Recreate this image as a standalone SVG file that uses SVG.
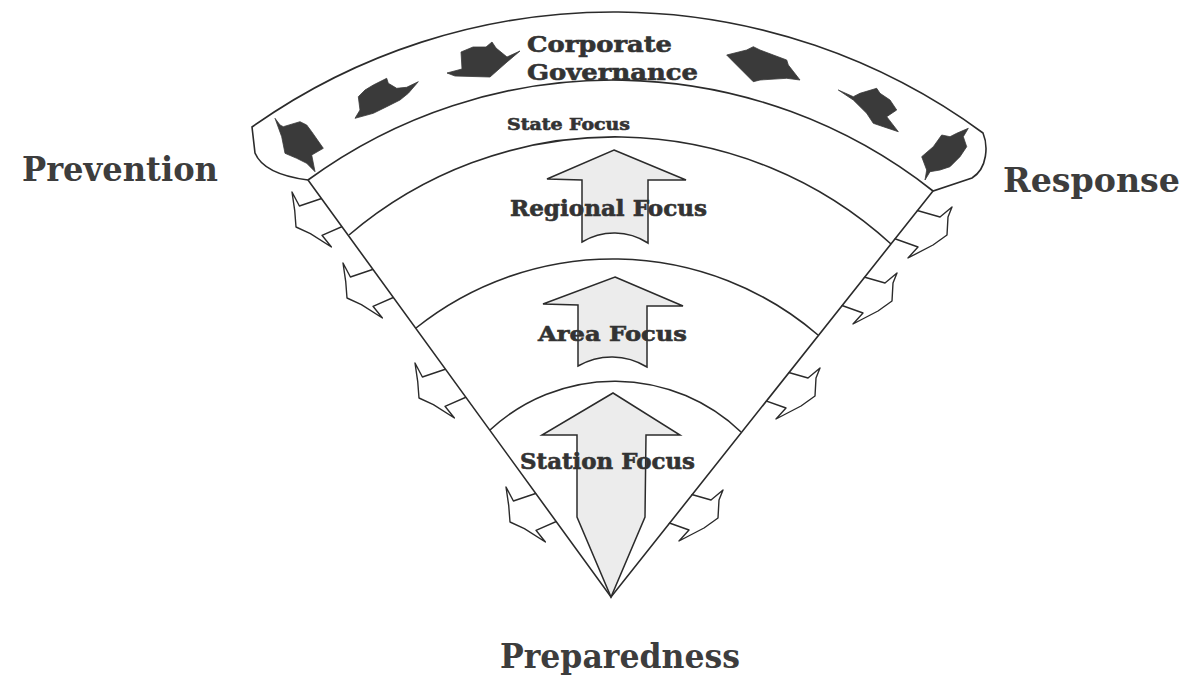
<svg xmlns="http://www.w3.org/2000/svg" width="1182" height="679" viewBox="0 0 1182 679">
<style>
.ln{fill:none;stroke:#2b2b2b;stroke-width:1.6}
.band{fill:#fff;stroke:#2b2b2b;stroke-width:1.6}
.big{fill:#ececec;stroke:#2b2b2b;stroke-width:1.5;stroke-linejoin:miter}
.dk{fill:#3a3a3a;stroke:#3a3a3a;stroke-width:0.8}
.wa{fill:#fff;stroke:#2b2b2b;stroke-width:1.4;stroke-linejoin:round}
.lab{font-family:"DejaVu Serif","Liberation Serif",serif;font-weight:bold;fill:#3d3d3d}
.in{font-family:"DejaVu Serif","Liberation Serif",serif;font-weight:bold;fill:#333;stroke:#333;stroke-width:0.6}
</style>
<defs>
<clipPath id="outL"><polygon points="0,0 177,0 671,679 0,679"/></clipPath>
<clipPath id="outR"><polygon points="1084,0 1182,0 1182,679 545,679"/></clipPath>
<polygon id="wl" class="wa" points="0,0 7.4,14 34,5 56,32 30,43.3 39.4,55 18.4,41.6 4,35 2.7,18.3"/>
<polygon id="wr" class="wa" points="0,0 -4,10 -5,28 -19,38 -44,51 -34,40 -62,30 -40,2 -12,10"/>
</defs>
<rect width="1182" height="679" fill="#fff"/>

<g id="corporate-governance">
<path class="band" d="M252,127 A625,625 0 0 1 983,133 C988,145 988,168 972,178 L933,191 A516,516 0 0 0 308,180 C285,177 262,170 255,153 Z"/>
<text class="in" x="527" y="52" font-size="23" textLength="145" lengthAdjust="spacingAndGlyphs">Corporate</text>
<text class="in" x="527" y="80" font-size="23" textLength="171" lengthAdjust="spacingAndGlyphs">Governance</text>
</g>

<g id="connectors">
<g id="edge-arrows-left" clip-path="url(#outL)">
<use href="#wl" x="292" y="192"/>
<use href="#wl" x="343" y="263"/>
<use href="#wl" x="415" y="363"/>
<use href="#wl" x="506" y="487"/>
</g>
<g id="edge-arrows-right" clip-path="url(#outR)">
<use href="#wr" x="952" y="207"/>
<use href="#wr" x="897" y="273"/>
<use href="#wr" x="820" y="368"/>
<use href="#wr" x="723" y="490"/>
</g>
<g id="band-arrows">
<polygon class="dk" points="275,118.3 280,125 283.3,126.7 300,121.7 306.7,125 311.7,131.7 323.3,148.3 311.7,155 315,171.7 306.7,163.3 296.7,158.3 285,153.3 281.7,136.7"/>
<polygon class="dk" points="355,118.3 360,110 358.3,96.7 365,90 373.3,85 386.7,78.3 388.3,83.3 396.7,88.3 406.7,87.3 418.3,81.7 408.3,93.3 400,100 386.7,106.7 373.3,113.3"/>
<polygon class="dk" points="447,73 462,69 461,52 473,47 486,47 492,42 496,48 507,57 520,51 507,62 490,77 455,76"/>
<polygon class="dk" points="726.7,55 746.7,50 753.3,46.7 760,50 773.3,55 786.7,60 788.3,65 800,80 786.7,78.3 760,80 753.3,81.7 743.3,71.7 733.3,61.7"/>
<polygon class="dk" points="838.3,90 853.3,96.7 860,93.3 876.7,88.3 880,93.3 890,100 896.7,110 886.7,116.7 898.3,131.7 883.3,126.7 873.3,123.3 866.7,113.3 853.3,100"/>
<polygon class="dk" points="968.3,128.3 963.3,136.7 966.7,146.7 960,156.7 950,166.7 940,170 930,171.7 925,180 926.7,170 921.7,156.7 933.3,146.7 941.7,135 950,136.7 956.7,133.3"/>
</g>
</g>

<g id="wedge">
<path class="ln" d="M308,180 L611,597 L933,191"/>
</g>

<g id="state-focus">
<path class="ln" d="M349,235 A409.5,409.5 0 0 1 891,244"/>
<text class="in" x="507" y="130" font-size="16" textLength="123" lengthAdjust="spacingAndGlyphs">State Focus</text>
</g>

<g id="regional-focus">
<path class="ln" d="M416,328 A315,315 0 0 1 818,335"/>
<path class="big" d="M614,150 L686,180 L648,180 L648,243 A62,62 0 0 0 582,242 L582,180 L547,179 Z"/>
<text class="in" x="510" y="216" font-size="22" textLength="197" lengthAdjust="spacingAndGlyphs">Regional Focus</text>
</g>

<g id="area-focus">
<path class="ln" d="M490,430 A183,183 0 0 1 741,432"/>
<path class="big" d="M615,277 L683,306 L647,306 L647,367 A67,67 0 0 0 578,366 L578,305 L543,304 Z"/>
<text class="in" x="538" y="341" font-size="21" textLength="149" lengthAdjust="spacingAndGlyphs">Area Focus</text>
</g>

<g id="station-focus">
<path class="big" d="M613,393 L680,435 L646,435 L645,517 L611,597 L577,517 L577,435 L542,435 Z"/>
<text class="in" x="520" y="469" font-size="22" textLength="175" lengthAdjust="spacingAndGlyphs">Station Focus</text>
</g>

<g id="prevention"><text class="lab" x="22" y="181" font-size="33" textLength="196" lengthAdjust="spacingAndGlyphs">Prevention</text></g>
<g id="response"><text class="lab" x="1003" y="192" font-size="33" textLength="177" lengthAdjust="spacingAndGlyphs">Response</text></g>
<g id="preparedness"><text class="lab" x="500" y="668" font-size="33" textLength="240" lengthAdjust="spacingAndGlyphs">Preparedness</text></g>
</svg>
